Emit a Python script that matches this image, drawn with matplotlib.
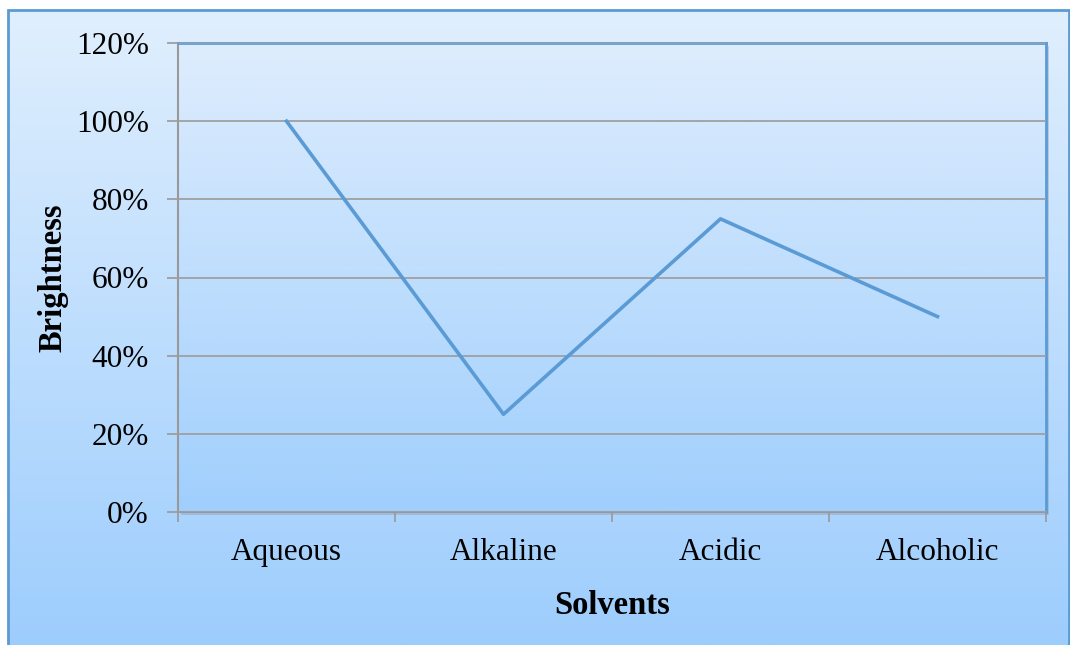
import matplotlib.pyplot as plt
import numpy as np
from matplotlib.colors import LinearSegmentedColormap
from matplotlib.patches import Rectangle

# Brightness of the dye in each solvent
solvents = ["Aqueous", "Alkaline", "Acidic", "Alcoholic"]
brightness = [100, 25, 75, 50]
y_ticks = [0, 20, 40, 60, 80, 100, 120]

plt.rcParams['font.family'] = ['Liberation Serif', 'DejaVu Serif']

W, H = 1070, 645
fig = plt.figure(figsize=(W / 100, H / 100), dpi=100)
fig.patch.set_facecolor('white')

blues = LinearSegmentedColormap.from_list("sky", ["#E0EFFE", "#9DCDFD"])
grad = np.linspace(0, 1, 256).reshape(-1, 1)

# Chart frame with vertical gradient
x0, y0 = 8 / W, 0.0
bg = fig.add_axes([x0, y0, 1 - x0, 1 - 10 / H], zorder=-10)
bg.imshow(grad, cmap=blues, aspect='auto', extent=[0, 1, 0, 1], origin='upper')
bg.set_axis_off()
fig.patches.append(Rectangle((x0, -0.01), 1 - x0 - 1.5 / W, 1 - 10 / H + 0.01,
                             transform=fig.transFigure, fill=False,
                             edgecolor='#5B9BD5', linewidth=2, zorder=5))

left, right, top, bottom = 178 / W, 1046 / W, 1 - 43 / H, 1 - 512 / H

# Soft shadow behind the plot area
fig.patches.append(Rectangle((left + 3 / W, bottom - 3 / H), right - left, top - bottom,
                             transform=fig.transFigure, facecolor='#7f93a8',
                             alpha=0.35, edgecolor='none', zorder=-5))

ax = fig.add_axes([left, bottom, right - left, top - bottom])
ax.imshow(grad, cmap=LinearSegmentedColormap.from_list("plot", ["#DEEDFD", "#A0CFFD"]),
          aspect='auto', extent=[0, 4, 0, 120], origin='upper', zorder=0)

x = np.arange(len(solvents)) + 0.5
ax.plot(x, brightness, color='#5B9BD5', linewidth=2.6, zorder=3)

ax.set_xlim(0, 4)
ax.set_ylim(0, 120)
ax.set_yticks(y_ticks)
ax.set_yticklabels([f"{v}%" for v in y_ticks], fontsize=22.5)
ax.set_xticks(np.arange(5))
ax.set_xticklabels([])
ax.set_xticks(x, minor=True)
ax.set_xticklabels(solvents, minor=True, fontsize=22.5)
ax.tick_params(axis='x', which='minor', length=0, pad=19)
ax.tick_params(axis='x', which='major', length=7, color='#999999', width=1.2)
ax.tick_params(axis='y', length=8, color='#999999', width=1.2, pad=13)

ax.yaxis.grid(True, color='#a0a0a0', linewidth=1.3, zorder=1)
ax.set_axisbelow(False)
for g in ax.get_ygridlines():
    g.set_zorder(1)

ax.spines['left'].set_color('#999999')
ax.spines['bottom'].set_color('#999999')
ax.spines['left'].set_linewidth(1.5)
ax.spines['bottom'].set_linewidth(1.5)
ax.spines['top'].set_color('#5B9BD5')
ax.spines['right'].set_color('#5B9BD5')
ax.spines['top'].set_linewidth(2)
ax.spines['right'].set_linewidth(2)

ax.set_xlabel("Solvents", fontsize=23.5, fontweight='bold', labelpad=16)
ax.set_ylabel("Brightness", fontsize=23.5, fontweight='bold', labelpad=5)

fig.savefig("out.png", dpi=100)
